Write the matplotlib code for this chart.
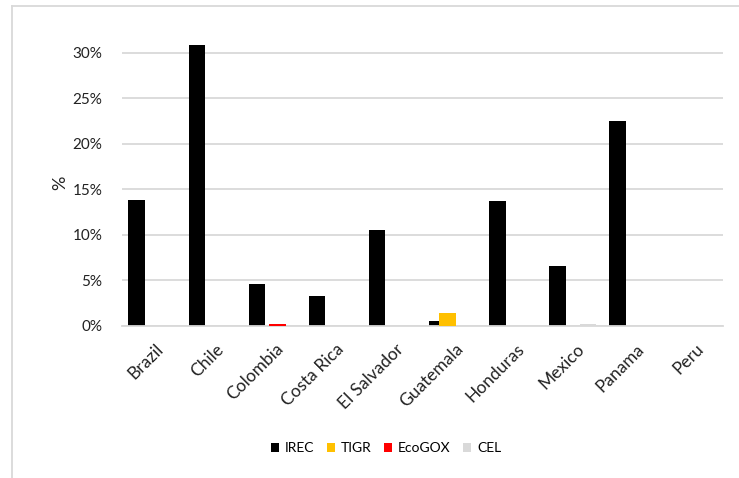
import numpy as np
import matplotlib.pyplot as plt
from matplotlib.lines import Line2D
from matplotlib.ticker import PercentFormatter

plt.rcParams['font.family'] = ['Lato', 'DejaVu Sans']

# Дані
countries = ['Brazil', 'Chile', 'Colombia', 'Costa Rica', 'El Salvador',
             'Guatemala', 'Honduras', 'Mexico', 'Panama', 'Peru']
series_names = ['IREC', 'TIGR', 'EcoGOX', 'CEL']
irec = [13.8, 30.9, 4.55, 3.3, 10.5, 0.5, 13.7, 6.6, 22.5, 0.0]
tigr = [0.0, 0.0, 0.0, 0.0, 0.0, 1.43, 0.0, 0.0, 0.0, 0.0]
ecogox = [0.0, 0.0, 0.2, 0.0, 0.0, 0.0, 0.0, 0.0, 0.0, 0.0]
cel = [0.0, 0.0, 0.0, 0.0, 0.0, 0.0, 0.0, 0.2, 0.0, 0.0]
colors = ['#000000', '#FFC000', '#FF0000', '#D9D9D9']

fig = plt.figure(figsize=(7.39, 4.78), dpi=100)
ax = fig.add_axes([122 / 739, 152.3 / 478, 601 / 739, 285.7 / 478])

x = np.arange(len(countries))
step = 0.17
width = 0.275
for i, (vals, name, c) in enumerate(zip([irec, tigr, ecogox, cel], series_names, colors)):
    ax.bar(x + (i - 1.5) * step, vals, width=width, color=c, label=name, zorder=2 + i)

ax.set_xlim(-0.5, len(countries) - 0.5)
ax.set_ylim(0, 31.4)
ax.set_yticks(np.arange(0, 31, 5))
ax.yaxis.set_major_formatter(PercentFormatter(decimals=0))
ax.grid(axis='y', color='#D9D9D9', linewidth=1.3, zorder=0)
ax.set_axisbelow(True)

for side in ['top', 'right', 'left']:
    ax.spines[side].set_visible(False)
ax.spines['bottom'].set_color('#D9D9D9')
ax.spines['bottom'].set_linewidth(1.3)

ax.set_xticks(x + 0.05)
ax.set_xticklabels(countries, rotation=45, ha='right', va='top', rotation_mode='anchor',
                   fontsize=12.5, color='#222222')
ax.tick_params(axis='x', length=0, pad=11)
ax.tick_params(axis='y', length=0, pad=14, labelsize=11, labelcolor='#222222')
ax.set_ylabel('%', fontsize=13, color='#222222', labelpad=3)

ax.legend(loc='center', bbox_to_anchor=(386 / 739, 30 / 478), bbox_transform=fig.transFigure,
          ncol=4, frameon=False, fontsize=10, handlelength=0.6, handleheight=0.6,
          handletextpad=0.4, columnspacing=0.9)

# Рамка діаграми
fig.add_artist(Line2D([12 / 739, 12 / 739], [0, 1 - 6 / 478], color='#D9D9D9', linewidth=1.3))
fig.add_artist(Line2D([12 / 739, 1], [1 - 6 / 478, 1 - 6 / 478], color='#D9D9D9', linewidth=1.3))

fig.savefig('out.png', dpi=100)
